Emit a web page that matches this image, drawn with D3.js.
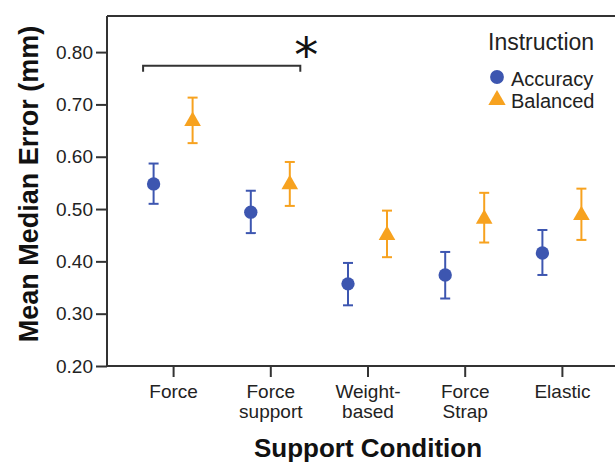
<!DOCTYPE html>
<html><head><meta charset="utf-8">
<script src="https://cdn.jsdelivr.net/npm/d3@7"></script>
<style>body{margin:0;background:#fff;overflow:hidden}svg{display:block}</style>
</head><body>
<script>
const categories = ["Force","Force\nsupport","Weight-\nbased","Force\nStrap","Elastic"];
const seriesNames = ["Accuracy","Balanced"];
const accuracyMean = [0.548,0.494,0.357,0.374,0.416];
const accuracyLow  = [0.510,0.454,0.316,0.329,0.374];
const accuracyHigh = [0.587,0.535,0.397,0.418,0.460];
const balancedMean = [0.670,0.549,0.452,0.483,0.490];
const balancedLow  = [0.626,0.506,0.408,0.436,0.441];
const balancedHigh = [0.713,0.590,0.497,0.531,0.539];
const yTicks = [0.20,0.30,0.40,0.50,0.60,0.70,0.80];
const sigPair = ["Force","Force\nsupport"];

const W=615,H=464;
const FONT="Liberation Sans, Arial, sans-serif";
const svg=d3.select("body").append("svg").attr("width",W).attr("height",H);
const mL=107, mT=16, mB=366, mR=628;
const x=d3.scalePoint().domain(categories).range([mL,mR]).padding(0.68);
const y=d3.scaleLinear().domain([0.2,0.869]).range([mB,mT]);
const off=d3.scaleOrdinal().domain(seriesNames).range([-19.5,19.5]);
const color=d3.scaleOrdinal().domain(seriesNames).range(["#3d56b0","#f7a21f"]);
const axisCol="#333";

// frame top line
svg.append("line").attr("x1",mL).attr("x2",W).attr("y1",mT).attr("y2",mT)
  .attr("stroke",axisCol).attr("stroke-width",2);

// y axis
const ya=svg.append("g").attr("transform",`translate(${mL},0)`)
  .call(d3.axisLeft(y).tickValues(yTicks).tickFormat(d3.format(".2f")).tickSize(11).tickPadding(3));
ya.select(".domain").attr("stroke",axisCol).attr("stroke-width",2).attr("d",`M0,${mT}V${mB}`);
ya.selectAll(".tick line").attr("stroke",axisCol).attr("stroke-width",2);
ya.selectAll(".tick text").attr("fill","#222").style("font-family",FONT).style("font-size","19px");

// x axis
const xa=svg.append("g").attr("transform",`translate(0,${mB})`)
  .call(d3.axisBottom(x).tickSize(11).tickFormat(""));
xa.select(".domain").attr("stroke",axisCol).attr("stroke-width",2).attr("d",`M${mL},0H${W}`);
xa.selectAll(".tick line").attr("stroke",axisCol).attr("stroke-width",2);
xa.selectAll(".tick").each(function(d){
  const lines=d.split("\n");
  const t=d3.select(this).append("text").attr("fill","#222").attr("text-anchor","middle")
    .style("font-family",FONT).style("font-size","19px");
  lines.forEach((s,i)=>t.append("tspan").attr("x",0).attr("y",32+i*19.5).text(s));
});

// data
const series=[
  {name:"Accuracy",mean:accuracyMean,low:accuracyLow,high:accuracyHigh},
  {name:"Balanced",mean:balancedMean,low:balancedLow,high:balancedHigh}
];
series.forEach(s=>{
  const g=svg.append("g");
  const pts=categories.map((c,i)=>({c,m:s.mean[i],lo:s.low[i],hi:s.high[i],cx:x(c)+off(s.name)}));
  g.selectAll("line.err").data(pts).join("line").attr("x1",d=>d.cx).attr("x2",d=>d.cx)
    .attr("y1",d=>y(d.lo)).attr("y2",d=>y(d.hi)).attr("stroke",color(s.name)).attr("stroke-width",2);
  ["lo","hi"].forEach(k=>{
    g.selectAll("line.cap"+k).data(pts).join("line").attr("x1",d=>d.cx-5).attr("x2",d=>d.cx+5)
      .attr("y1",d=>y(d[k])).attr("y2",d=>y(d[k])).attr("stroke",color(s.name)).attr("stroke-width",2);
  });
  const sym=s.name==="Accuracy"?d3.symbol(d3.symbolCircle,140):d3.symbol(d3.symbolTriangle,120);
  g.selectAll("path.m").data(pts).join("path").attr("d",sym)
    .attr("transform",d=>`translate(${d.cx},${y(d.m)+(s.name==="Balanced"?1:0)})`).attr("fill",color(s.name));
});

// significance bracket
const bx1=x(sigPair[0])-30, bx2=x(sigPair[1])+30, by=y(0.774);
svg.append("path").attr("d",`M${bx1},${by+6}V${by}H${bx2}V${by+6}`).attr("fill","none")
  .attr("stroke","#333").attr("stroke-width",2);
svg.append("text").attr("x",bx2+6).attr("y",by+6).attr("text-anchor","middle")
  .style("font-family","DejaVu Sans, sans-serif").style("font-size","48px").attr("fill","#111").text("*");

// legend
const lg=svg.append("g").style("font-family",FONT);
lg.append("text").attr("x",488).attr("y",50).style("font-size","23px").attr("fill","#222").text("Instruction");
seriesNames.forEach((n,i)=>{
  const yy=77+i*22;
  const sym=n==="Accuracy"?d3.symbol(d3.symbolCircle,150):d3.symbol(d3.symbolTriangle,130);
  lg.append("path").attr("d",sym).attr("transform",`translate(497,${yy+(i?1:0)})`).attr("fill",color(n));
  lg.append("text").attr("x",511).attr("y",yy+9).style("font-size","20px").attr("fill","#222").text(n);
});

// axis titles
svg.append("text").attr("transform",`translate(38,184) rotate(-90)`).attr("text-anchor","middle")
  .style("font-family",FONT).style("font-size","27px").style("font-weight","bold")
  .attr("fill","#111").text("Mean Median Error (mm)");
svg.append("text").attr("x",368).attr("y",457).attr("text-anchor","middle")
  .style("font-family",FONT).style("font-size","26px").style("font-weight","bold")
  .attr("fill","#111").text("Support Condition");
</script>
</body></html>
